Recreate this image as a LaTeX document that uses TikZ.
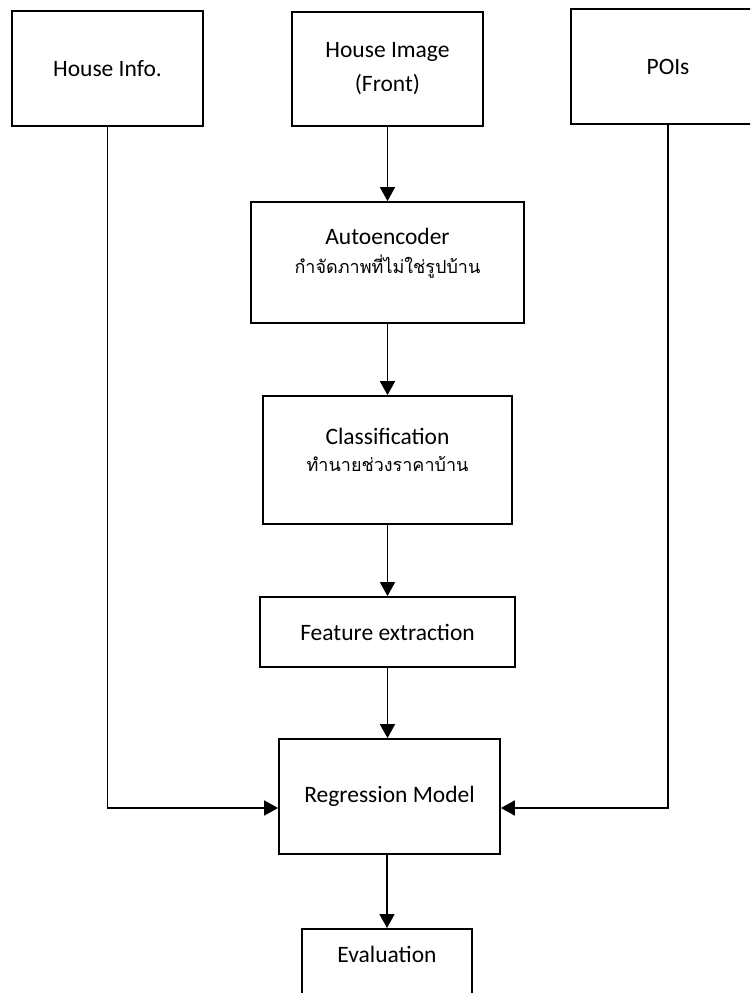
\documentclass[tikz,border=0pt]{standalone}
\usepackage{fontspec}
\setmainfont{Carlito}
\newfontfamily\thaifont[Script=Thai]{Loma}
\usepackage{tikz}
\usetikzlibrary{arrows.meta}

\tikzset{
  box/.style={rectangle, draw=black, line width=1.8pt, text centered, align=center,
    font=\fontsize{23.5}{34}\selectfont},
  flow/.style={-{Triangle[length=14pt,width=15pt]}, line width=1.8pt}
}

\begin{document}
\begin{tikzpicture}[x=1pt, y=-1pt]
\useasboundingbox (0,0) rectangle (750,993);
\clip (0,0) rectangle (750,993);

\node (info) [box, minimum width=191pt, minimum height=115pt] at (107.5,68.5) {House Info.};

\node (himg) [box, minimum width=191pt, minimum height=114pt, right of=info, node distance=280pt, yshift=-0.5pt] {House Image\\(Front)};

\node (poi) [box, minimum width=194pt, minimum height=115pt, right of=himg, node distance=280.5pt, yshift=2.5pt] {POIs};

\node (auto) [box, minimum width=273pt, minimum height=121pt, below of=himg, node distance=193.5pt, text depth=23pt, font=\fontsize{23.5}{29}\selectfont] {Autoencoder\\{\thaifont\fontsize{18}{29}\selectfont กำจัดภาพที่ไม่ใช่รูปบ้าน}};

\node (cls) [box, minimum width=249pt, minimum height=128pt, below of=auto, node distance=197.5pt, text depth=21pt, font=\fontsize{23.5}{27}\selectfont] {Classification\\{\thaifont\fontsize{18}{27}\selectfont ทำนายช่วงราคาบ้าน}};

\node (feat) [box, minimum width=255pt, minimum height=70pt, below of=cls, node distance=172pt] {Feature extraction};

\node (regr) [box, minimum width=221pt, minimum height=115pt, below of=feat, node distance=164.5pt, xshift=2pt] {Regression Model};

\node (eval) [box, minimum width=170pt, inner ysep=0pt, text height=34pt, text depth=60pt, anchor=north] at (387,928) {Evaluation};

\draw[flow] (himg) -- (auto);
\draw[flow] (auto) -- (cls);
\draw[flow] (cls) -- (feat);
\draw[flow] (feat.south) -- (feat.south |- regr.north);
\draw[flow] (regr.south -| eval.north) -- (eval.north);

\draw[flow] (info.south) |- ([yshift=-11.5pt]regr.west);
\draw[flow] (poi.south) |- ([yshift=-11.5pt]regr.east);

\end{tikzpicture}
\end{document}
